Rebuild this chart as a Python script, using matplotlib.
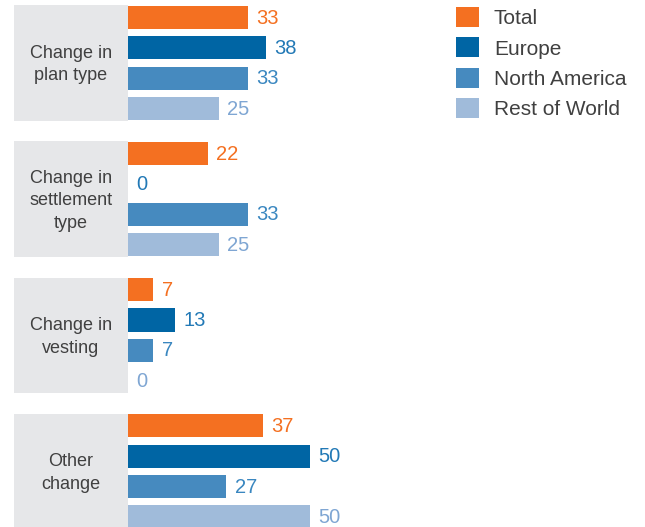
import matplotlib
matplotlib.use('Agg')
import matplotlib.pyplot as plt
from matplotlib.patches import Patch

plt.rcParams['font.family'] = ['Liberation Sans', 'DejaVu Sans']

categories = ['Change in\nplan type', 'Change in\nsettlement\ntype', 'Change in\nvesting', 'Other\nchange']
series = ['Total', 'Europe', 'North America', 'Rest of World']
values = {
    'Total': [33, 22, 7, 37],
    'Europe': [38, 0, 13, 50],
    'North America': [33, 33, 7, 27],
    'Rest of World': [25, 25, 0, 50],
}
bar_colors = ['#F47021', '#0065A4', '#468ABF', '#A0BBDA']
text_colors = ['#F47021', '#2279B6', '#3A87C0', '#7FA6D3']

px_per_unit = 3.64
group_step = 4.49
bar_h = 0.76

fig = plt.figure(figsize=(6.45, 5.27), dpi=100)
ax = fig.add_axes([0, 0, 1, 1])
ax.set_xlim(-128 / px_per_unit, (645 - 128) / px_per_unit)
ax.set_ylim(16.81, -0.577)
ax.axis('off')

# grey boxes with category names
box_left = (14 - 128) / px_per_unit
for g, cat in enumerate(categories):
    yc = g * group_step + 1.5
    ax.barh(yc, -box_left, left=box_left, height=3.8, color='#E6E7E9', zorder=0)
    ax.text(box_left / 2, yc + 0.06, cat, ha='center', va='center', fontsize=13,
            color='#404040', linespacing=1.4)

for s, name in enumerate(series):
    ys = [g * group_step + s for g in range(len(categories))]
    vals = values[name]
    ax.barh(ys, vals, height=bar_h, color=bar_colors[s], zorder=2)
    for y, v in zip(ys, vals):
        ax.annotate(str(v), (v, y), xytext=(6, -0.5), textcoords='offset points',
                    ha='left', va='center', fontsize=14.5, color=text_colors[s])

handles = [Patch(facecolor=c, edgecolor='none') for c in bar_colors]
fig.legend(handles, series, loc='upper left', bbox_to_anchor=(456 / 645, 1 - 7 / 527),
           frameon=False, fontsize=15, handlelength=1.1, handleheight=1.1,
           handletextpad=0.72, labelspacing=0.45, borderpad=0, borderaxespad=0,
           labelcolor='#404040')

fig.savefig('out.png', dpi=100)
